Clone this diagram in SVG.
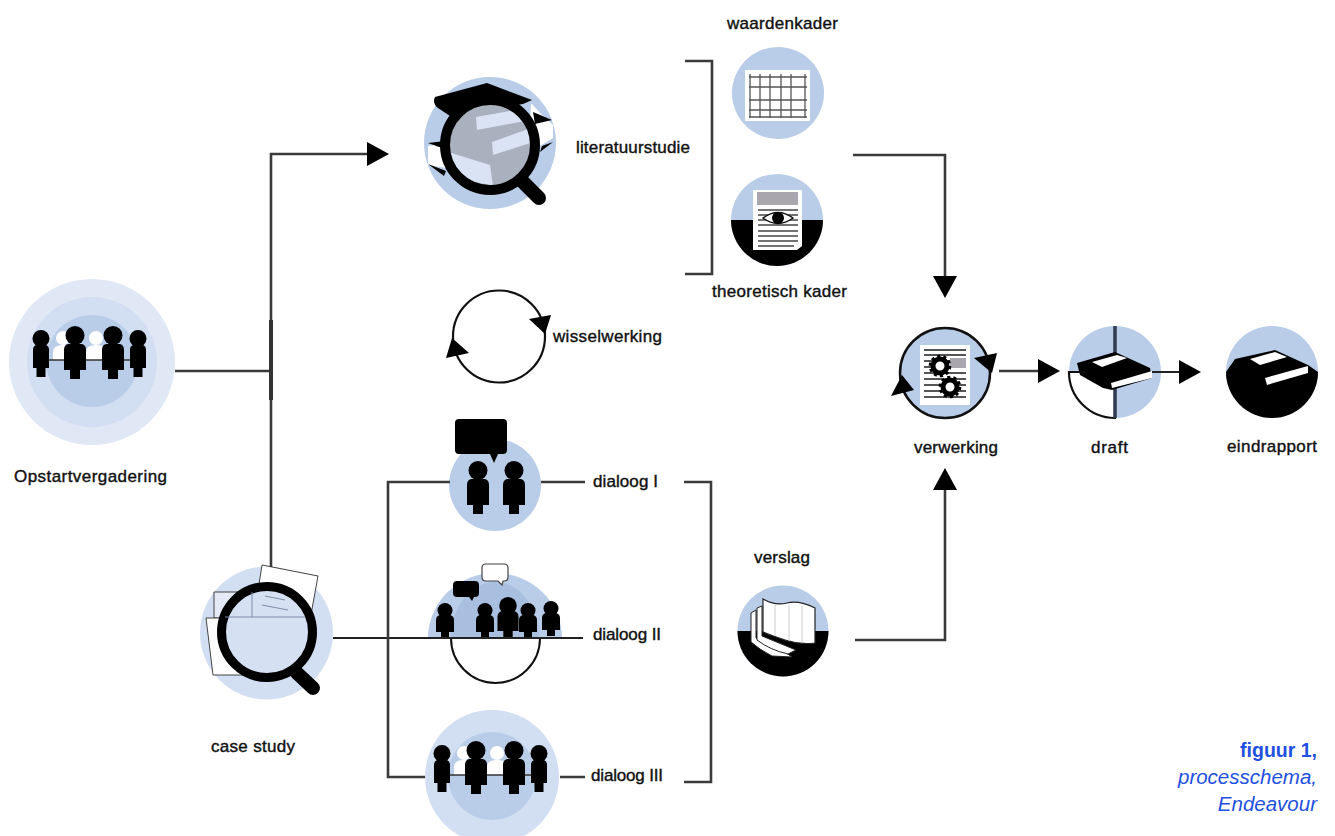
<svg xmlns="http://www.w3.org/2000/svg" width="1335" height="836" viewBox="0 0 1335 836">
<style>
text{font-family:"Liberation Sans",Arial,sans-serif;font-size:17px;fill:#111;stroke:#111;stroke-width:.4px}
text.fig{font-size:19.500px;fill:#1f50e0;stroke:none;text-anchor:end}
text.it{font-size:20.500px;font-style:italic}
.c{fill:none;stroke:#3a3a3a;stroke-width:2.600}
.thin{fill:none;stroke:#111;stroke-width:2.200}
.b1{fill:#b9cce8}.b2{fill:#d2def1}.b3{fill:#e0e8f6}.k{fill:#000}.w{fill:#fff}
.ln{stroke:#444;stroke-width:1.600;fill:none}
</style>
<defs>
<marker id="ah" markerUnits="userSpaceOnUse" markerWidth="22" markerHeight="24" viewBox="0 0 22 24" refX="2" refY="12" orient="auto"><path d="M0 0L22 12L0 24z" fill="#000"/></marker>
<g id="pL"><circle cx="0" cy="9.500" r="9.500"/><path d="M-7 18H7Q11 19 11 24V44H5V53H-5V44H-11V24Q-11 19 -7 18z"/></g>
<g id="pS"><circle cx="0" cy="8.500" r="8.500"/><path d="M-5 15H5Q8 16 8 20V38H4.500V47H-4.500V38H-8V20Q-8 16 -5 15z"/></g>
<g id="pD"><circle cx="0" cy="7.500" r="7.500"/><path d="M-5 12H5Q9 13 9 17V29H4V35H-4V29H-9V17Q-9 13 -5 12z"/></g>
<g id="pW"><circle cx="0" cy="8" r="7" fill="#fff"/><path d="M-10 30V22q0-7 10-7t10 7v8z" fill="#fff"/></g>
<g id="table">
<use href="#pW" x="22" y="0"/><use href="#pW" x="55" y="0"/>
<path d="M0 30H97" stroke="#333" stroke-width="1.500"/>
<use href="#pS" x="0" y="0"/><use href="#pL" x="34" y="-4"/><use href="#pL" x="72" y="-4"/><use href="#pS" x="97" y="0"/>
</g>
<g id="gear"><circle r="7" fill="#fff" stroke="#000" stroke-width="5"/><circle r="9.800" fill="none" stroke="#000" stroke-width="3" stroke-dasharray="3.100 3.050"/></g>
<clipPath id="lens"><circle cx="490" cy="145" r="41"/></clipPath>
</defs>

<g id="opstart">
<circle class="b3" cx="92" cy="362" r="83"/><circle class="b2" cx="92" cy="362" r="65"/><circle class="b1" cx="92" cy="361" r="46"/>
<use href="#table" x="41" y="330"/>
<text x="14" y="482" textLength="153">Opstartvergadering</text>
</g>

<g id="literatuurstudie">
<circle class="b1" cx="490" cy="143" r="66"/>
<path class="w" d="M531 103L540 113L553 125V138L540 146L530 120zM428 146L442 144L446 168L428 165z"/>
<path class="k" d="M435 97L487 83L532 100L523 104L450 116L438 108Q432 103 435 97zM533 112L552 120L535 124zM542 146L553 142L540 152zM428 143L445 141L442 148zM428 164L446 171L444 176z"/>
<circle cx="490" cy="145" r="41" fill="#a9b1be"/>
<g clip-path="url(#lens)" fill="#d9e3f4">
<path d="M476 117L515 110L530 120L477 130z"/><path d="M492 142L531 128L530 143L493 155z"/><path d="M445 151L490 165L493 186L460 178z"/>
</g>
<circle cx="490" cy="145" r="45" fill="none" stroke="#000" stroke-width="10"/>
<path d="M522 181L539 198" stroke="#000" stroke-width="14" stroke-linecap="round"/>
<text x="576" y="153" textLength="114">literatuurstudie</text>
</g>

<g id="waardenkader">
<circle class="b1" cx="778" cy="93" r="46"/>
<rect class="w" x="745" y="70" width="65" height="51"/>
<path d="M749 77H807M749 87H807M749 100H807M749 110H807M749 117H807M750 74V118M760 74V118M770 74V118M781 74V118M791 74V118M805 74V118" stroke="#555" stroke-width="1.300" fill="none"/>
<text x="727" y="29" textLength="111">waardenkader</text>
</g>

<g id="theoretisch-kader">
<circle class="b1" cx="777" cy="220" r="46"/>
<path class="k" d="M731 220H823A46 46 0 0 1 731 220z"/>
<path class="w" d="M753 190H802V246L797 250H753z"/>
<rect x="757" y="192" width="41" height="13" fill="#a9a7ad"/>
<path d="M758 210H798M758 215H798M758 220H798M758 225H798M758 231H798M758 236H798M758 241H798M758 246H794" class="ln"/>
<path d="M763 218Q778 207 793 218Q778 229 763 218z" fill="#fff" stroke="#111" stroke-width="1.500"/>
<circle class="k" cx="778" cy="218" r="6"/>
<text x="712" y="297" textLength="135">theoretisch kader</text>
</g>

<g id="wisselwerking">
<circle class="thin" cx="499" cy="336.500" r="46"/>
<path class="k" d="M529 319L551 315L545 334zM446 358L452 338L469 353z"/>
<text x="553" y="342" textLength="109">wisselwerking</text>
</g>

<g id="case-study">
<circle class="b2" cx="266.500" cy="633" r="66.500"/>
<path d="M262 565L318 576L310 620L255 610z" fill="#fff" stroke="#444" stroke-width="1"/>
<path d="M214 592H265V618H214z" fill="#e4eaf6" stroke="#444" stroke-width="1"/>
<path d="M206 618H265L262 675H213z" fill="#fff" stroke="#444" stroke-width="1"/>
<circle cx="267" cy="632" r="45.500" fill="#d6e0f3" stroke="#000" stroke-width="9"/>
<path d="M225 617H305M252 592V617M265 596L285 600M262 605L288 610" fill="none" stroke="#7d8ca6" stroke-width="1"/>
<path d="M297 673L313 688" stroke="#000" stroke-width="14" stroke-linecap="round"/>
<text x="211" y="752" textLength="84">case study</text>
</g>

<g id="dialoog-1">
<circle class="b1" cx="495" cy="485" r="46"/>
<path class="k" d="M459 419H503Q507 419 507 423V450Q507 454 503 454H498L494 463L490 454H459Q455 454 455 450V423Q455 419 459 419z"/>
<use href="#pL" x="478" y="461"/><use href="#pL" x="514" y="461"/>
<text x="593" y="487" textLength="65">dialoog I</text>
</g>

<g id="dialoog-2">
<path class="b1" d="M428 638A67 65 0 0 1 562 638z"/>
<path fill="#a9bfe0" d="M451 638A44 56 0 0 1 539 638z"/>
<path class="w" d="M451 638A44.500 45 0 0 0 540 638z" stroke="#111" stroke-width="2"/>
<use href="#pD" x="445" y="603"/><use href="#pD" x="485" y="603"/><use href="#pD" transform="translate(508 597) scale(1.170)"/><use href="#pD" x="528" y="603"/><use href="#pD" x="551" y="601"/>
<path class="k" d="M457 581H475Q479 581 479 585V593Q479 597 475 597H474L472 601L469 597H457Q453 597 453 593V585Q453 581 457 581z"/>
<path d="M486 564H504Q508 564 508 568V577Q508 581 504 581H503L502 585L498 581H486Q482 581 482 577V568Q482 564 486 564z" fill="#fff" stroke="#444" stroke-width="1.200"/>
<text x="593" y="640" textLength="68">dialoog II</text>
</g>

<g id="dialoog-3">
<circle class="b2" cx="492" cy="777" r="67"/><circle class="b1" cx="492" cy="776" r="44"/>
<use href="#table" x="442" y="745"/>
<text x="591" y="781" textLength="72">dialoog III</text>
</g>

<g id="verslag">
<circle class="b1" cx="783" cy="631" r="45.500"/>
<path class="k" d="M737.500 631H828.500A45.500 45.500 0 0 1 737.500 631z"/>
<path d="M751 613L756 610V638L782 650L792 657L772 656Q760 650 751 642z" fill="#fff" stroke="#222"/>
<path d="M757 608L762 606V636L796 650L788 654Q770 650 757 640z" fill="#fff" stroke="#222"/>
<path d="M763 599Q775 606 787 603T815 608V643Q800 645 785 640T763 632z" fill="#fff" stroke="#222" stroke-width="1.200"/>
<path d="M775 605V636M789 605V641M802 606V643" stroke="#ccc" fill="none"/>
<text x="754" y="563" textLength="56">verslag</text>
</g>

<g id="verwerking">
<circle class="b1" cx="945" cy="373" r="45" stroke="#111" stroke-width="2.500"/>
<rect class="w" x="920" y="345" width="50" height="60"/>
<path d="M924 350H966M924 355H966M924 361H966M924 367H966M924 373H966M924 379H966M924 385H966M924 391H966M924 397H966" stroke="#555" stroke-width="1.800"/>
<rect x="950" y="358" width="16" height="10" fill="#a9a7ad"/>
<use href="#gear" x="940" y="366"/><use href="#gear" x="950" y="387"/>
<path class="k" d="M974 358L997 353L992 373zM891 396L902 375L914 390z"/>
<text x="914" y="453" textLength="84">verwerking</text>
</g>

<g id="draft">
<circle class="b1" cx="1115" cy="372" r="46"/>
<path class="w" d="M1069 372H1115V418A46 46 0 0 1 1069 372z" stroke="#111" stroke-width="2.200"/>
<path d="M1115 326V418" stroke="#2f3b50" stroke-width="3.500"/>
<path class="k" d="M1077 363L1115 352L1150 368L1152 378L1112 390L1103 388L1080 375z"/>
<path class="w" d="M1111 383L1152 371V378L1112 388z"/>
<path class="w" d="M1092 362L1117 355L1127 358L1102 367z"/>
<text x="1091" y="453" textLength="37">draft</text>
</g>

<g id="eindrapport">
<circle class="b1" cx="1272" cy="372" r="46"/>
<path class="k" d="M1226 372L1235 359L1275 350L1308 365L1318 372A46 46 0 0 1 1226 372z"/>
<path class="w" d="M1265 378L1308 366V373L1267 385z"/>
<path class="w" d="M1250 359L1275 352L1287 357L1260 365z"/>
<text x="1227" y="452" textLength="90">eindrapport</text>
</g>

<g id="connectors">
<path class="c" d="M175 371H271"/>
<path class="c" d="M271 567V154H369" marker-end="url(#ah)"/>
<path d="M271 320V400" stroke="#333" stroke-width="4"/>
<path d="M333 638H583" fill="none" stroke="#222" stroke-width="2"/>
<path class="c" d="M450 482H388V777H425M541 482H585M560 777H585"/>
<path class="c" d="M685 61H712V274H685"/>
<path class="c" d="M684 482H711V782H684"/>
<path class="c" d="M853 155H945V278" marker-end="url(#ah)"/>
<path class="c" d="M855 640H945V488" marker-end="url(#ah)"/>
<path class="c" d="M999 371H1040" marker-end="url(#ah)"/>
<path d="M1069 372H1085" stroke="#111" stroke-width="1.500"/>
<path d="M1152 372H1181" fill="none" stroke="#222" stroke-width="2" marker-end="url(#ah)"/>
</g>

<g id="caption">
<text class="fig" x="1317" y="757" style="font-weight:700">figuur 1,</text>
<text class="fig it" x="1317" y="784">processchema,</text>
<text class="fig it" x="1317" y="811">Endeavour</text>
</g>
</svg>
